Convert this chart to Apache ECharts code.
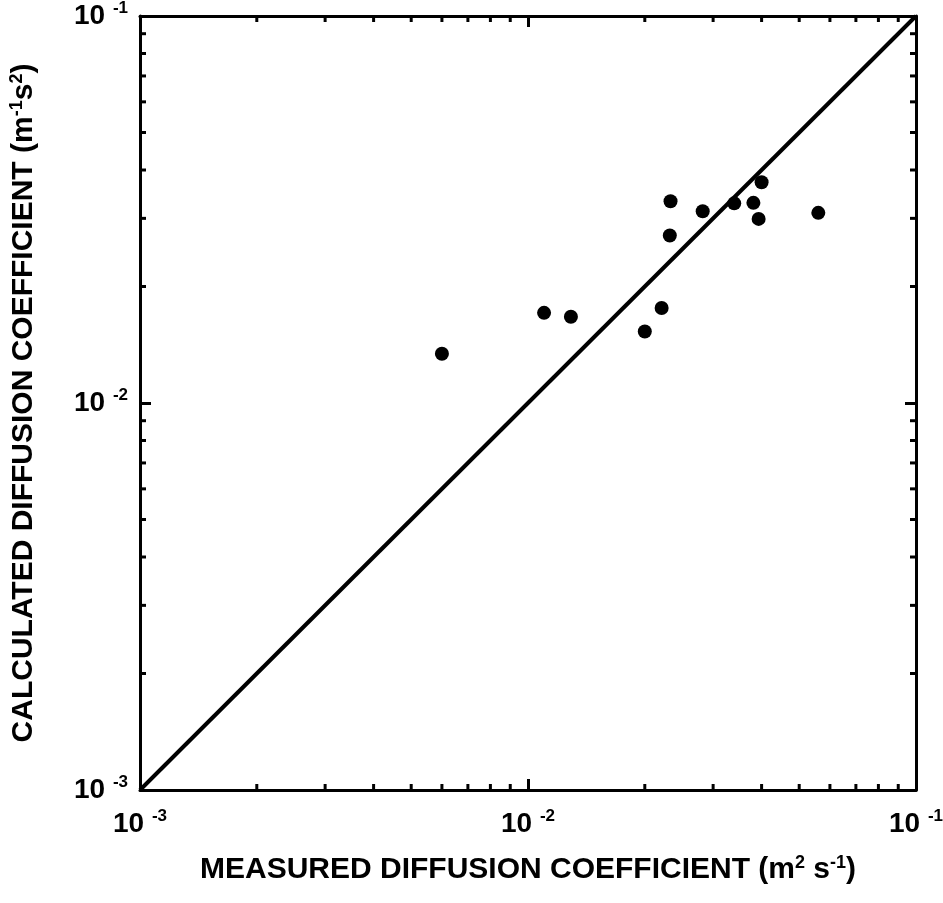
<!DOCTYPE html>
<html>
<head>
<meta charset="utf-8">
<script src="https://cdn.jsdelivr.net/npm/echarts@6/dist/echarts.min.js"></script>
<style>
  html, body { margin: 0; padding: 0; background: #fff; }
  #chart { width: 943px; height: 903px; }
</style>
</head>
<body>
<div id="chart"></div>
<script>
// measured vs calculated diffusion coefficient
var measured = [0.0060, 0.0110, 0.0129, 0.0200, 0.0221, 0.0232, 0.0233, 0.0282, 0.0340, 0.0381, 0.0400, 0.0393, 0.0560];
var calculated = [0.0134, 0.0171, 0.0167, 0.0153, 0.0176, 0.0271, 0.0332, 0.0313, 0.0328, 0.0329, 0.0372, 0.0299, 0.0310];
var oneToOne = [[0.001, 0.001], [0.1, 0.1]];
var axisMin = 0.001, axisMax = 0.1;
var minorTicks = [0.002, 0.003, 0.004, 0.005, 0.006, 0.007, 0.008, 0.009,
                  0.02, 0.03, 0.04, 0.05, 0.06, 0.07, 0.08, 0.09];
var tickExp = { "0.001": "-3", "0.01": "-2", "0.1": "-1" };

var chart = echarts.init(document.getElementById("chart"));
var FONT = "Liberation Sans";

var points = measured.map(function (m, i) { return [m, calculated[i]]; });

function powLabel(v) {
  var e = tickExp[String(+v.toPrecision(3))];
  return e ? "{b|10} {s|" + e + "}" : "";
}
var labelRich = {
  b: { fontFamily: FONT, fontWeight: "bold", fontSize: 28, color: "#000", lineHeight: 32 },
  s: { fontFamily: FONT, fontWeight: "bold", fontSize: 17, color: "#000", verticalAlign: "top", lineHeight: 32, padding: [0, 0, 14, 0] }
};
var nameRich = {
  s: { fontFamily: FONT, fontWeight: "bold", fontSize: 18, color: "#000", padding: [0, 0, 14, 0] }
};

function logAxis(pos, showLabel) {
  return {
    type: "log",
    logBase: 10,
    min: axisMin,
    max: axisMax,
    position: pos,
    axisLine: { show: true, onZero: false, lineStyle: { color: "#000", width: 3 } },
    axisTick: { show: true, inside: true, length: 11, lineStyle: { color: "#000", width: 3 } },
    axisLabel: { show: showLabel, fontSize: 28, fontWeight: "bold", fontFamily: FONT, color: "#000", formatter: powLabel, rich: labelRich, margin: 12 },
    splitLine: { show: false }
  };
}

var xBottom = logAxis("bottom", true);
xBottom.name = "MEASURED DIFFUSION COEFFICIENT (m{s|2} s{s|-1})";
xBottom.nameLocation = "middle";
xBottom.nameGap = 64;
xBottom.nameTextStyle = { fontFamily: FONT, fontWeight: "bold", fontSize: 30, color: "#000", rich: nameRich };
xBottom.axisLabel.margin = 18;

var yLeft = logAxis("left", true);
yLeft.name = "CALCULATED DIFFUSION COEFFICIENT (m{s|-1}s{s|2})";
yLeft.nameLocation = "middle";
yLeft.nameGap = 100;
yLeft.nameRotate = 90;
yLeft.nameTextStyle = { fontFamily: FONT, fontWeight: "bold", fontSize: 30, color: "#000", rich: nameRich };

var option = {
  backgroundColor: "#fff",
  animation: false,
  grid: { left: 140, right: 27, top: 16, bottom: 113, containLabel: false, outerBoundsMode: "none" },
  xAxis: [xBottom, logAxis("top", false)],
  yAxis: [yLeft, logAxis("right", false)],
  series: [
    {
      type: "line",
      data: oneToOne,
      symbol: "none",
      lineStyle: { color: "#000", width: 4 }
    },
    {
      type: "scatter",
      data: points,
      symbol: "circle",
      symbolSize: 14,
      itemStyle: { color: "#000", opacity: 1 }
    },
    {
      // minor ticks on all four sides
      type: "custom",
      data: minorTicks,
      clip: false,
      silent: true,
      renderItem: function (params, api) {
        var v = api.value(0);
        var len = 6;
        var b = api.coord([v, axisMin]);
        var t = api.coord([v, axisMax]);
        var l = api.coord([axisMin, v]);
        var r = api.coord([axisMax, v]);
        var st = { stroke: "#000", lineWidth: 3 };
        return {
          type: "group",
          children: [
            { type: "line", shape: { x1: b[0], y1: b[1], x2: b[0], y2: b[1] - len }, style: st },
            { type: "line", shape: { x1: t[0], y1: t[1], x2: t[0], y2: t[1] + len }, style: st },
            { type: "line", shape: { x1: l[0], y1: l[1], x2: l[0] + len, y2: l[1] }, style: st },
            { type: "line", shape: { x1: r[0], y1: r[1], x2: r[0] - len, y2: r[1] }, style: st }
          ]
        };
      },
      encode: { x: 0 }
    }
  ]
};

chart.setOption(option);
</script>
</body>
</html>
